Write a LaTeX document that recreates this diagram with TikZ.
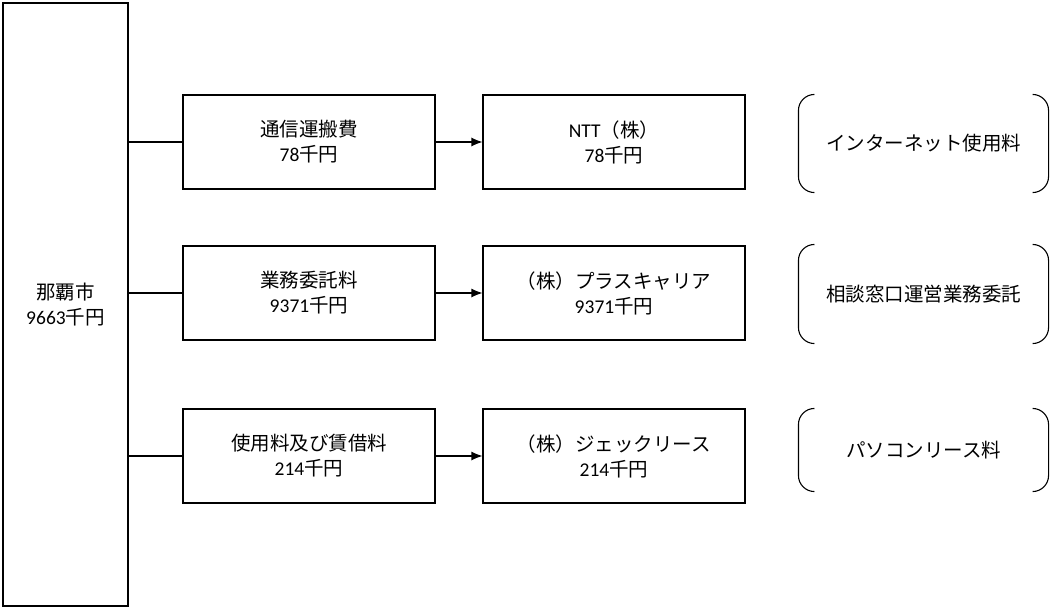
\documentclass[tikz,border=0pt]{standalone}
\usepackage{fontspec}
\setmainfont{Carlito}
\newfontfamily\jp{Noto Sans CJK JP}
\usetikzlibrary{arrows,arrows.meta}

\begin{document}
\begin{tikzpicture}[x=1pt,y=-1pt,every path/.style={>={Latex[length=11pt,width=9pt]}},
                box/.style={draw,line width=1.1pt,align=center,inner sep=0pt,
                  font=\fontsize{19.5}{25}\selectfont},
                note/.style={box,draw=none}]
  \useasboundingbox (0,0) rectangle (1051,607);
  % left
  \node[box,minimum width=125,minimum height=603] (city) at (65.5,304.5) {{\jp 那覇市}\\9663{\jp 千円}};
  % column 1
  \node[box,minimum width=252,minimum height=94] (p1) at (309,142) {{\jp 通信運搬費}\\78{\jp 千円}};
  \node[box,minimum width=252,minimum height=94] (p2) at (309,293) {{\jp 業務委託料}\\9371{\jp 千円}};
  \node[box,minimum width=252,minimum height=94] (p3) at (309,456) {{\jp 使用料及び賃借料}\\214{\jp 千円}};
  % column 2
  \node[box,minimum width=262,minimum height=94] (c1) at (614,142) {NTT{\jp （株）}\\78{\jp 千円}};
  \node[box,minimum width=262,minimum height=94] (c2) at (614,293) {{\jp （株）プラスキャリア}\\9371{\jp 千円}};
  \node[box,minimum width=262,minimum height=94] (c3) at (614,456) {{\jp （株）ジェックリース}\\214{\jp 千円}};
  % column 3
  \node[note,minimum width=249,minimum height=97] (u1) at (923.5,143.5) {\jp インターネット使用料};
  \node[note,minimum width=249,minimum height=98] (u2) at (923.5,294) {\jp 相談窓口運営業務委託};
  \node[note,minimum width=249,minimum height=82] (u3) at (923.5,450) {\jp パソコンリース料};

  \foreach \n in {1,2,3} {
    \draw[line width=1.1pt] (p\n.west -| city.east) -- (p\n.west);
    \draw[->,line width=1.1pt] (p\n) -- (c\n);
    \draw[line width=1.1pt,rounded corners=16pt]
      ([xshift=16pt]u\n.north west) -- (u\n.north west) -- (u\n.south west) -- ([xshift=16pt]u\n.south west);
    \draw[line width=1.1pt,rounded corners=16pt]
      ([xshift=-16pt]u\n.north east) -- (u\n.north east) -- (u\n.south east) -- ([xshift=-16pt]u\n.south east);
  }
\end{tikzpicture}
\end{document}
